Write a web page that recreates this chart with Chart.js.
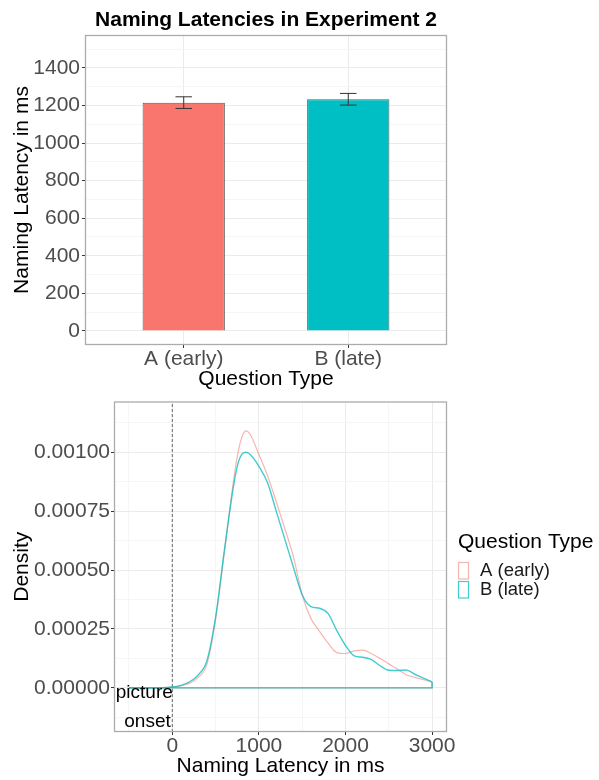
<!DOCTYPE html>
<html><head><meta charset="utf-8">
<script src="https://cdn.jsdelivr.net/npm/chart.js@4.4.1/dist/chart.umd.min.js"></script>
<style>
html,body{margin:0;padding:0;background:#fff;}
#wrap{position:relative;width:599px;height:780px;overflow:hidden;}
.box{position:absolute;left:0;width:599px;height:390px;}
</style></head><body>
<div id="wrap">
<div class="box" style="top:0"><canvas id="c1" width="599" height="390"></canvas></div>
<div class="box" style="top:390px"><canvas id="c2" width="599" height="390"></canvas></div>
</div>
<script>
// ---------- data ----------
const categories = ["A (early)", "B (late)"];
const meanLatency = [1215, 1233];
const seLatency = [31, 31];
const barTicksY = [0, 200, 400, 600, 800, 1000, 1200, 1400];

const seriesNames = ["A (early)", "B (late)"];
const densityX = [-500, -250, 0, 100, 200, 300, 400, 500, 600, 700, 750, 800, 850, 900, 1000, 1100, 1200, 1300, 1400, 1500, 1600, 1700, 1800, 1900, 2000, 2100, 2200, 2300, 2400, 2500, 2600, 2700, 2800, 2900, 3000];
// density values in units of 1e-5
const densityA = [0, 0, 0.3, 0.9, 2.0, 4.5, 10, 29, 57, 86, 98, 106, 109, 107.5, 99, 90, 79, 67.5, 55.5, 39.5, 29.5, 24, 19, 15, 14.6, 15.7, 16.0, 14.5, 12.5, 10.2, 8, 5.6, 4.5, 3.5, 2.5];
const densityB = [0, 0, 0.4, 1.1, 2.6, 5.5, 11.5, 30, 58, 84, 94, 99, 100, 99, 94, 87, 75, 63, 51, 39.5, 34.5, 33.8, 31.5, 24.3, 18, 13.6, 13.0, 12.0, 9.4, 7.5, 7.4, 7.6, 5.8, 4.2, 2.5];
const densityTicksX = [0, 1000, 2000, 3000];
const densityTicksY = [0, 0.00025, 0.0005, 0.00075, 0.001];
const onsetLabel = ["picture", "onset"];

// ---------- helpers ----------
Chart.defaults.font.family = "'Liberation Sans', Arial, sans-serif";
const GRID_MAJOR = '#ebebeb', GRID_MINOR = '#f4f4f4', TICK_TXT = '#4d4d4d';
function withMinor(ticks, lo, hi) {
  const step = ticks[1] - ticks[0];
  const out = [];
  for (let v = ticks[0] - step / 2; v <= ticks[ticks.length - 1] + step / 2 + 1e-12; v += step / 2) {
    if (v >= lo && v <= hi) out.push(+v.toPrecision(10));
  }
  return out;
}
const isMajor = (arr, v) => arr.some(t => Math.abs(t - v) < 1e-9 * Math.max(1, Math.abs(t)));

const panelBorder = {
  id: 'panelBorder',
  afterDraw(chart) {
    const {ctx, chartArea: a} = chart;
    ctx.save();
    ctx.strokeStyle = '#ababab';
    ctx.lineWidth = 1.3;
    ctx.strokeRect(a.left + 0.5, a.top + 0.5, a.right - a.left - 1, a.bottom - a.top - 1);
    ctx.restore();
  }
};

// ---------- top chart: bars ----------
const errorBars = {
  id: 'errorBars',
  afterDatasetsDraw(chart) {
    const {ctx} = chart;
    const meta = chart.getDatasetMeta(0);
    const y = chart.scales.y;
    ctx.save();
    ctx.strokeStyle = '#333';
    ctx.lineWidth = 1;
    meta.data.forEach((el, i) => {
      const x = el.x;
      const top = y.getPixelForValue(meanLatency[i] + seLatency[i]);
      const bot = y.getPixelForValue(meanLatency[i] - seLatency[i]);
      const hw = el.width * 0.1;
      ctx.beginPath();
      ctx.moveTo(x, top); ctx.lineTo(x, bot);
      ctx.moveTo(x - hw, top); ctx.lineTo(x + hw, top);
      ctx.moveTo(x - hw, bot); ctx.lineTo(x + hw, bot);
      ctx.stroke();
    });
    ctx.restore();
  }
};

const barYMin = -75, barYMax = 1575;
const barGridY = withMinor(barTicksY, barYMin, barYMax);

new Chart(document.getElementById('c1'), {
  type: 'bar',
  data: {
    datasets: [{
      data: meanLatency.map((m, i) => ({x: i + 1, y: m})),
      backgroundColor: ['#F8766D', '#00BFC4'],
      borderColor: '#5a5a5a',
      borderWidth: 1,
      categoryPercentage: 1,
      barPercentage: 0.5
    }]
  },
  options: {
    responsive: false,
    animation: false,
    events: [],
    layout: {padding: {left: 0, right: 152, top: 0, bottom: 0}},
    plugins: {
      legend: {display: false},
      tooltip: {enabled: false},
      title: {
        display: true, fullSize: false,
        text: 'Naming Latencies in Experiment 2',
        color: '#000',
        font: {size: 21, weight: 'bold', lineHeight: 1.2},
        padding: {top: 8, bottom: 1.8}
      }
    },
    scales: {
      x: {
        type: 'linear', min: 0.4, max: 2.6, offset: false,
        afterBuildTicks(s) { s.ticks = categories.map((c, i) => ({value: i + 1})); },
        afterFit(s) { s.height = 45; },
        ticks: {
          callback: v => categories[Math.round(v) - 1] ?? '',
          color: TICK_TXT, font: {size: 21, lineHeight: 1}, padding: 1, maxRotation: 0, autoSkip: false
        },
        grid: {color: GRID_MAJOR, lineWidth: 1, tickLength: 3, tickColor: '#333', drawTicks: true, offset: false},
        border: {display: false},
        title: {display: true, text: 'Question Type', color: '#000', font: {size: 21, lineHeight: 1}, padding: {top: 0, bottom: 0}}
      },
      y: {
        type: 'linear', min: barYMin, max: barYMax,
        afterBuildTicks(s) { s.ticks = barGridY.map(v => ({value: v})); },
        afterFit(s) { s.width = 85; },
        ticks: {
          callback: v => isMajor(barTicksY, v) ? String(Math.round(v)) : '',
          color: TICK_TXT, font: {size: 21, lineHeight: 1}, padding: 2, autoSkip: false
        },
        grid: {
          color: c => isMajor(barTicksY, c.tick.value) ? GRID_MAJOR : GRID_MINOR,
          lineWidth: c => isMajor(barTicksY, c.tick.value) ? 1 : 0.8,
          tickLength: 3,
          tickColor: c => isMajor(barTicksY, c.tick.value) ? '#333' : 'rgba(0,0,0,0)'
        },
        border: {display: false},
        title: {display: true, text: 'Naming Latency in ms', color: '#000', font: {size: 21, lineHeight: 1}, padding: {top: 11.5, bottom: 0}}
      }
    }
  },
  plugins: [errorBars, panelBorder]
});

// ---------- bottom chart: densities ----------
const dYMin = -0.000187, dYMax = 0.001215;
const dXMin = -673, dXMax = 3172;
const dGridX = withMinor(densityTicksX, dXMin, dXMax);
const dGridY = withMinor(densityTicksY, dYMin, dYMax);
const colA = 'rgba(240,120,112,0.55)';
const colB = 'rgba(0,188,194,0.75)';
const seriesColors = [colA, colB];

function curve(vals) { return densityX.map((x, i) => ({x, y: vals[i] * 1e-5})); }
function closure(vals) {
  const n = densityX.length - 1;
  return [{x: densityX[n], y: vals[n] * 1e-5}, {x: densityX[n], y: 0}, {x: densityX[0], y: 0}];
}

const annot = {
  id: 'annot',
  afterDatasetsDraw(chart) {
    const {ctx, scales: {x, y}} = chart;
    ctx.save();
    ctx.fillStyle = '#000';
    ctx.font = "19px 'Liberation Sans', Arial, sans-serif";
    ctx.textAlign = 'right';
    ctx.textBaseline = 'middle';
    const px = x.getPixelForValue(0);
    ctx.fillText(onsetLabel[0], px + 0.5, y.getPixelForValue(-0.000022));
    ctx.fillText(onsetLabel[1], px - 1.5, y.getPixelForValue(-0.000144));
    ctx.restore();
  }
};

const densityLegend = {
  id: 'densityLegend',
  afterDraw(chart) {
    const {ctx} = chart;
    ctx.save();
    ctx.fillStyle = '#000';
    ctx.textAlign = 'left';
    ctx.textBaseline = 'middle';
    ctx.font = "21px 'Liberation Sans', Arial, sans-serif";
    ctx.fillText('Question Type', 458, 152);
    ctx.font = "18.5px 'Liberation Sans', Arial, sans-serif";
    seriesNames.forEach((name, i) => {
      const top = 172 + i * 19;
      ctx.strokeStyle = seriesColors[i];
      ctx.lineWidth = 1.2;
      ctx.strokeRect(458.5, top + 0.5, 10, 16.5);
      ctx.fillStyle = '#1a1a1a';
      ctx.fillText(name, 480, top + 8.5);
    });
    ctx.restore();
  }
};

new Chart(document.getElementById('c2'), {
  type: 'line',
  data: {
    datasets: [
      {data: curve(densityB), borderColor: colB, borderWidth: 1.4, pointRadius: 0, cubicInterpolationMode: 'monotone', order: 0},
      {data: closure(densityB), borderColor: colB, borderWidth: 1.4, pointRadius: 0, tension: 0, order: 1},
      {data: curve(densityA), borderColor: colA, borderWidth: 1.2, pointRadius: 0, cubicInterpolationMode: 'monotone', order: 2},
      {data: closure(densityA), borderColor: colA, borderWidth: 1.2, pointRadius: 0, tension: 0, order: 3},
      {data: [{x: 0, y: dYMin}, {x: 0, y: dYMax}], borderColor: '#666', borderWidth: 1, borderDash: [3, 2], pointRadius: 0, order: 4}
    ]
  },
  options: {
    responsive: false,
    animation: false,
    events: [],
    layout: {padding: {left: 0, right: 152, top: 9, bottom: 0}},
    plugins: {legend: {display: false}, tooltip: {enabled: false}},
    scales: {
      x: {
        type: 'linear', min: dXMin, max: dXMax,
        afterBuildTicks(s) { s.ticks = dGridX.map(v => ({value: v})); },
        afterFit(s) { s.height = 48; },
        ticks: {
          callback: v => isMajor(densityTicksX, v) ? String(Math.round(v)) : '',
          color: TICK_TXT, font: {size: 21, lineHeight: 1}, padding: 1, maxRotation: 0, autoSkip: false
        },
        grid: {
          color: c => isMajor(densityTicksX, c.tick.value) ? GRID_MAJOR : GRID_MINOR,
          lineWidth: c => isMajor(densityTicksX, c.tick.value) ? 1 : 0.8,
          tickLength: 3,
          tickColor: c => isMajor(densityTicksX, c.tick.value) ? '#333' : 'rgba(0,0,0,0)'
        },
        border: {display: false},
        title: {display: true, text: 'Naming Latency in ms', color: '#000', font: {size: 21, lineHeight: 1}, padding: {top: 0, bottom: 2.8}}
      },
      y: {
        type: 'linear', min: dYMin, max: dYMax,
        afterBuildTicks(s) { s.ticks = dGridY.map(v => ({value: v})); },
        afterFit(s) { s.width = 114; },
        ticks: {
          callback: v => isMajor(densityTicksY, v) ? v.toFixed(5) : '',
          color: TICK_TXT, font: {size: 21, lineHeight: 1}, padding: 1, autoSkip: false
        },
        grid: {
          color: c => isMajor(densityTicksY, c.tick.value) ? GRID_MAJOR : GRID_MINOR,
          lineWidth: c => isMajor(densityTicksY, c.tick.value) ? 1 : 0.8,
          tickLength: 3,
          tickColor: c => isMajor(densityTicksY, c.tick.value) ? '#333' : 'rgba(0,0,0,0)'
        },
        border: {display: false},
        title: {display: true, text: 'Density', color: '#000', font: {size: 21, lineHeight: 1}, padding: {top: 11.5, bottom: 0}}
      }
    }
  },
  plugins: [annot, densityLegend, panelBorder]
});
</script>
</body></html>
